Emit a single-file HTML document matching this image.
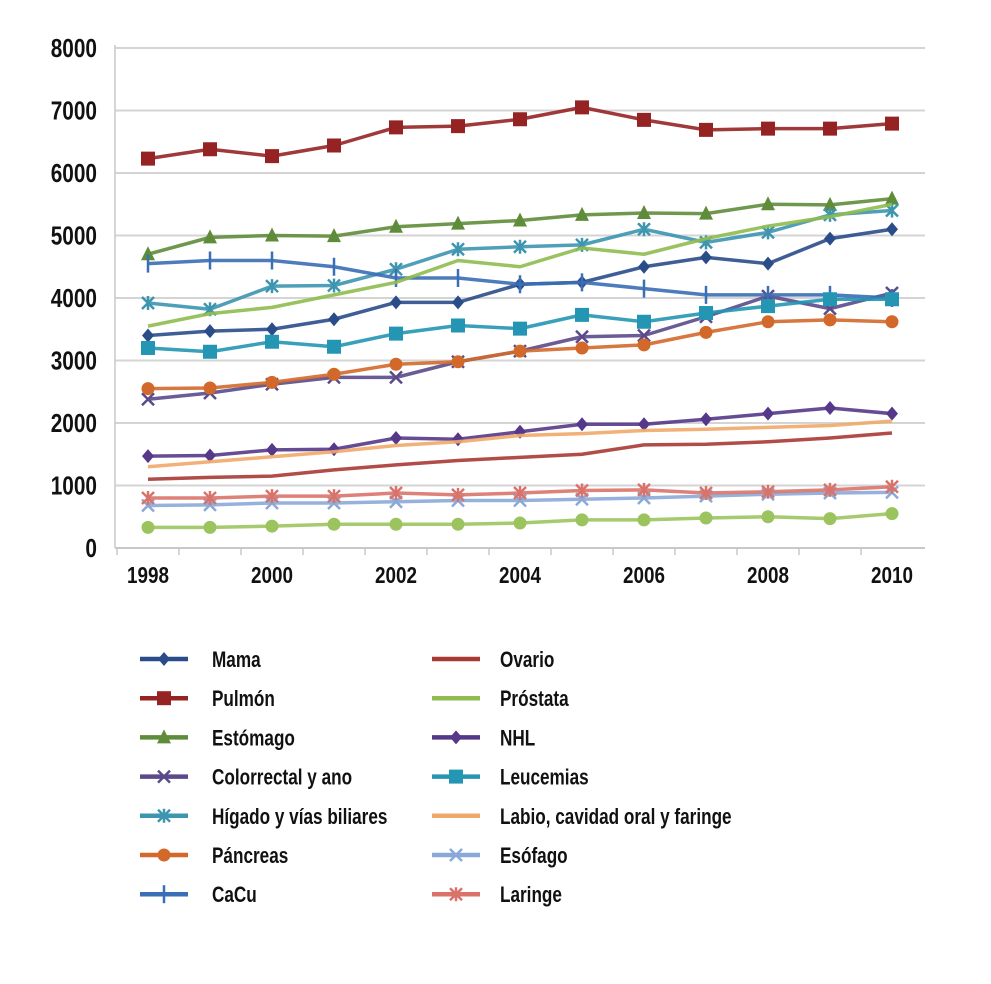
<!DOCTYPE html>
<html><head><meta charset="utf-8"><style>
body{margin:0;background:#fff;}
svg text{font-family:"Liberation Sans",sans-serif;fill:#111;font-weight:bold;}
</style></head><body>
<svg id="chart" width="991" height="979" viewBox="0 0 991 979" xmlns="http://www.w3.org/2000/svg">
<g id="grid"></g>
<g id="yaxis"></g>
<g id="xaxis"></g>
<g id="series"></g>
<g id="legend"></g>
</svg>
<script>
const years=[1998,1999,2000,2001,2002,2003,2004,2005,2006,2007,2008,2009,2010];
const yTicks=[0,1000,2000,3000,4000,5000,6000,7000,8000];
const xTickLabels=[1998,2000,2002,2004,2006,2008,2010];
const mama=[3400,3470,3500,3660,3930,3930,4220,4250,4500,4650,4550,4950,5100];
const pulmon=[6230,6380,6270,6440,6730,6750,6860,7050,6850,6690,6710,6710,6790];
const estomago=[4700,4970,5000,4990,5140,5190,5240,5330,5360,5350,5500,5490,5590];
const colorrectal=[2380,2480,2620,2730,2730,2980,3150,3380,3400,3700,4030,3830,4080];
const higado=[3920,3820,4190,4200,4460,4780,4820,4850,5100,4890,5050,5330,5400];
const pancreas=[2550,2560,2650,2780,2940,2980,3150,3200,3250,3450,3620,3650,3620];
const cacu=[4550,4600,4600,4500,4320,4320,4220,4250,4150,4050,4050,4050,4000];
const ovario=[1100,1130,1150,1250,1330,1400,1450,1500,1650,1660,1700,1760,1840];
const prostata=[3550,3750,3850,4050,4250,4600,4500,4800,4700,4950,5150,5300,5500];
const nhl=[1470,1480,1570,1580,1760,1740,1860,1980,1980,2060,2150,2240,2150];
const leucemias=[3200,3140,3300,3220,3430,3560,3510,3730,3620,3760,3870,3980,3980];
const labio=[1300,1380,1460,1540,1640,1700,1800,1830,1880,1900,1930,1960,2030];
const esofago=[680,690,720,720,740,760,760,780,800,830,860,880,890];
const laringe=[800,800,830,830,880,850,880,920,930,880,900,930,980];
const otros=[330,330,350,380,380,380,400,450,450,480,500,470,550];

const NS="http://www.w3.org/2000/svg";
function X(yr){return 148+(yr-1998)*62;}
function Y(v){return 548-v*0.0625;}
function mk(tag,attrs,parent){const e=document.createElementNS(NS,tag);for(const k in attrs)e.setAttribute(k,attrs[k]);parent.appendChild(e);return e;}

const grid=document.getElementById('grid'),yax=document.getElementById('yaxis'),xax=document.getElementById('xaxis');
yTicks.forEach(v=>{
  if(v>0){const l=mk('line',{x1:115,x2:925,y1:Y(v),y2:Y(v),stroke:'#d4d4d4','stroke-width':2},grid);
  
  }
  const t=mk('text',{x:97,y:Y(v)+9,'text-anchor':'end','font-size':26},yax);
  t.setAttribute('transform',`matrix(0.8,0,0,1,${97*0.2},0)`);
  t.textContent=v;
  
  
});
mk('line',{x1:115,x2:115,y1:45,y2:548,stroke:'#c8c8c8','stroke-width':1.5},yax);
const ax=mk('line',{x1:115,x2:925,y1:548,y2:548,stroke:'#c8c8c8','stroke-width':2},xax);


years.forEach(yr=>{mk('line',{x1:X(yr)-31,x2:X(yr)-31,y1:548,y2:555,stroke:'#c8c8c8','stroke-width':1.5},xax);});
xTickLabels.forEach(yr=>{
  const cx=X(yr);
  const t=mk('text',{x:cx,y:583,'text-anchor':'middle','font-size':23,transform:`matrix(0.82,0,0,1,${cx*0.18},0)`},xax);
  t.textContent=yr;
  
  
});

const seriesG=document.getElementById('series');
function marker(g,type,x,y,c){
  if(type==='square')mk('rect',{x:x-7,y:y-7,width:14,height:14,fill:c},g);
  else if(type==='diamond')mk('path',{d:`M${x} ${y-7}L${x+6} ${y}L${x} ${y+7}L${x-6} ${y}Z`,fill:c},g);
  else if(type==='triangle')mk('path',{d:`M${x} ${y-8}L${x+7} ${y+6}L${x-7} ${y+6}Z`,fill:c},g);
  else if(type==='circle')mk('circle',{cx:x,cy:y,r:6.5,fill:c},g);
  else if(type==='x'){mk('path',{d:`M${x-6} ${y-6}L${x+6} ${y+6}M${x+6} ${y-6}L${x-6} ${y+6}`,stroke:c,'stroke-width':2.5},g);}
  else if(type==='star'){mk('path',{d:`M${x-6} ${y-6}L${x+6} ${y+6}M${x+6} ${y-6}L${x-6} ${y+6}M${x} ${y-7}L${x} ${y+7}`,stroke:c,'stroke-width':2.5},g);}
  else if(type==='plus'){mk('path',{d:`M${x} ${y-9}L${x} ${y+9}`,stroke:c,'stroke-width':2.5},g);}
}
const defs=[
 ['mama','Mama',mama,'#2a4d8a','diamond',0,0],
 ['pulmon','Pulmón',pulmon,'#962323','square',0,1],
 ['estomago','Estómago',estomago,'#5f8c3a','triangle',0,2],
 ['colorrectal','Colorrectal y ano',colorrectal,'#5a4a8a','x',0,3],
 ['higado','Hígado y vías biliares',higado,'#3d95b0','star',0,4],
 ['pancreas','Páncreas',pancreas,'#d2692a','circle',0,5],
 ['cacu','CaCu',cacu,'#3a6eb5','plus',0,6],
 ['ovario','Ovario',ovario,'#a83a34','none',1,0],
 ['prostata','Próstata',prostata,'#8fbb4f','none',1,1],
 ['nhl','NHL',nhl,'#55388a','diamond',1,2],
 ['leucemias','Leucemias',leucemias,'#2496b3','square',1,3],
 ['labio','Labio, cavidad oral y faringe',labio,'#f0a86a','none',1,4],
 ['esofago','Esófago',esofago,'#8aa8d8','x',1,5],
 ['laringe','Laringe',laringe,'#d9736a','star',1,6],
 ['otros',null,otros,'#9cc45e','circle',-1,0]
];
defs.forEach(([id,label,vals,c,m])=>{
  const g=mk('g',{},seriesG);
  
  
  const d=vals.map((v,i)=>(i?'L':'M')+X(years[i])+' '+Y(v)).join('');
  mk('path',{d:d,fill:'none',stroke:c,'stroke-width':3.5,'stroke-linejoin':'round','stroke-opacity':0.9},g);
  if(m!=='none')vals.forEach((v,i)=>marker(g,m,X(years[i]),Y(v),c));
});
const lg=document.getElementById('legend');
defs.forEach(([id,label,vals,c,m,col,row])=>{
  if(col<0)return;
  const g=mk('g',{},lg);
  
  
  const x0=col?432:140, tx=col?500:212, y=659+row*39.2;
  mk('line',{x1:x0,x2:x0+48,y1:y,y2:y,stroke:c,'stroke-width':4.5},g);
  if(m!=='none')marker(g,m,x0+24,y,c);
  const t=mk('text',{x:tx,y:y+8,'font-size':22,transform:`matrix(0.78,0,0,1,${tx*0.22},0)`},g);
  t.textContent=label;
});
</script>
</body></html>
